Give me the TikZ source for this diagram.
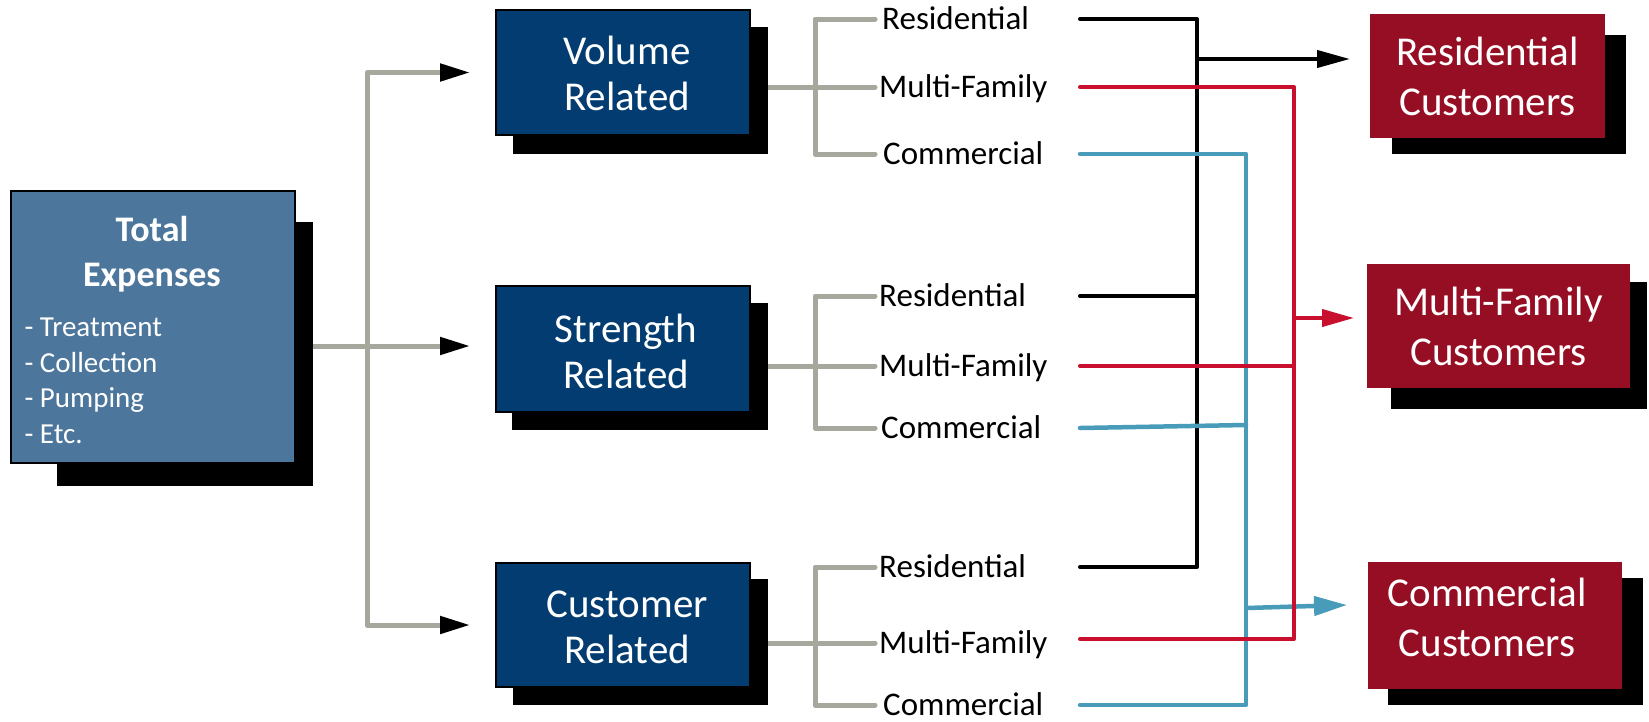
\documentclass[tikz,border=0pt]{standalone}
\usepackage{fontspec}
\setmainfont{Carlito}
\usetikzlibrary{arrows.meta}
\definecolor{steel}{RGB}{76,118,155}
\definecolor{navy}{RGB}{2,60,112}
\definecolor{wine}{RGB}{150,14,36}
\definecolor{ash}{RGB}{166,167,157}
\definecolor{crim}{RGB}{200,16,46}
\definecolor{sea}{RGB}{72,156,186}
\pgfdeclarelayer{wires}
\pgfsetlayers{wires,main}
\begin{document}
\begin{tikzpicture}[x=1pt,y=-1pt,
  shadowbox/.style={fill=black},
  srcbox/.style={draw=black,line width=2pt,fill=steel,minimum width=284pt,minimum height=272pt,inner sep=0pt},
  kindbox/.style={draw=black,line width=2pt,fill=navy,
    minimum width=254pt,minimum height=125pt,inner sep=0pt},
  kindtext/.style={text=white,align=center,inner sep=0pt,font=\fontsize{41}{46}\selectfont},
  custbox/.style={fill=wine,text=white,align=center,inner sep=0pt,font=\fontsize{41}{50}\selectfont},
  lbl/.style={anchor=west,inner sep=0pt,text height=24pt,text depth=3pt,font=\fontsize{33}{38}\selectfont},
  gline/.style={draw=ash,line width=5pt,line cap=round,line join=round},
  kline/.style={draw=black,line width=4pt,line cap=round,line join=round},
  rline/.style={draw=crim,line width=4pt,line cap=round,line join=round},
  tline/.style={draw=sea,line width=4.5pt,line cap=round,line join=round},
  grayhead/.style={-{Triangle[color=black,length=30pt,width=17pt]}}]
\useasboundingbox (0,0) rectangle (1649,721);

% drop shadows
\fill[shadowbox] (57,222) rectangle (313,486);
\fill[shadowbox] (513,27) rectangle (768,154);
\fill[shadowbox] (512,303) rectangle (768,430);
\fill[shadowbox] (513,579) rectangle (768,705);
\fill[shadowbox] (1392,35) rectangle (1626,154);
\fill[shadowbox] (1391,282) rectangle (1647,409);
\fill[shadowbox] (1388,578) rectangle (1643,705);

% source box
\node[srcbox] (tot) at (153,327) {};
\node[text=white,align=center,font=\bfseries\fontsize{36}{45}\selectfont] (totT) at (152,254) {Total\\Expenses};
\node[text=white,align=left,anchor=west,font=\fontsize{29}{35.5}\selectfont] (totL) at (21,381)
  {- Treatment\\- Collection\\- Pumping\\- Etc.};

% cost categories
\node[kindbox] (vol) at (623,72.5) {};
\node[kindtext] (volT) at (627,73) {Volume\\Related};
\node[kindbox,minimum height=126pt] (str) at (623,349) {};
\node[kindtext] (strT) at (626,351) {Strength\\Related};
\node[kindbox,minimum height=124pt] (cus) at (623,625) {};
\node[kindtext] (cusT) at (627,627) {Customer\\Related};

% customer classes
\node[custbox,minimum width=235pt,minimum height=124pt] (rc) at (1487.5,76) {Residential\\Customers};
\node[custbox,minimum width=263pt,minimum height=124pt] (mc) at (1498.5,326) {Multi-Family\\Customers};
\node[custbox,minimum width=254pt,minimum height=127pt] (cc) at (1495,625.5) {};
\node[text=white,align=center,inner sep=0pt,font=\fontsize{41}{50}\selectfont] (ccT) at (1487,617) {Commercial\\Customers};

% class labels beside each category
\node[lbl] (v1) at (882,19) {Residential};
\node[lbl] (v2) at (879,87) {Multi-Family};
\node[lbl] (v3) at (883,154) {Commercial};
\node[lbl] (s1) at (879,296) {Residential};
\node[lbl] (s2) at (879,366) {Multi-Family};
\node[lbl] (s3) at (881,428) {Commercial};
\node[lbl] (c1) at (879,567) {Residential};
\node[lbl] (c2) at (879,643) {Multi-Family};
\node[lbl] (c3) at (883,705) {Commercial};

% routing columns
\coordinate (hub) at (367,346);
\coordinate (bx) at (815,0);
\coordinate (bt) at (875,0);
\coordinate (cs) at (1080,0);
\coordinate (kx) at (1197,0);
\coordinate (tx) at (1246,0);
\coordinate (rx) at (1294,0);
\coordinate (ka) at (1350,59);
\coordinate (ra) at (1354,318);
\coordinate (tb) at (1246,608);
\coordinate (ta) at (1347,605);

\begin{pgfonlayer}{wires}
  % split of total expenses
  \draw[gline] ([xshift=12pt]tot.east |- hub) -- (hub);
  \draw[gline,grayhead] (hub) -- (hub |- vol.west) -- ([xshift=-25pt]vol.west);
  \draw[gline,grayhead] (hub) -- ([xshift=-25pt]str.west |- hub);
  \draw[gline,grayhead] (hub) -- (hub |- cus.west) -- ([xshift=-25pt]cus.west);

  % brackets
  \foreach \b/\p in {vol/v,str/s,cus/c}{
    \draw[gline] (\b.east |- \p2.west) -- (\p2.west -| bt);
    \draw[gline] (\p1.west -| bt) -- (\p1.west -| bx) -- (\p3.west -| bx) -- (\p3.west -| bt);
  }

  % residential routing
  \draw[kline] (v1.center -| cs) -- (v1.center -| kx) -- (c1.center -| kx) -- (c1.center -| cs);
  \draw[kline] (s1.center -| cs) -- (s1.center -| kx);
  \draw[kline,-{Triangle[length=33pt,width=17pt]}] (kx |- ka) -- (ka);

  % commercial routing
  \draw[tline] (v3.center -| cs) -- (v3.center -| tx) -- (c3.center -| tx) -- (c3.center -| cs);
  \draw[tline] (s3.center -| cs) -- ([yshift=3pt]s3.center -| tx);
  \draw[tline,-{Triangle[length=33pt,width=19pt]}] (tb) -- (ta);

  % multi-family routing
  \draw[rline] (v2.center -| cs) -- (v2.center -| rx) -- ([yshift=4pt]c2.center -| rx) -- ([yshift=4pt]c2.center -| cs);
  \draw[rline] (s2.center -| cs) -- (s2.center -| rx);
  \draw[rline,-{Triangle[length=32pt,width=17pt]}] (rx |- ra) -- (ra);
\end{pgfonlayer}
\end{tikzpicture}
\end{document}
